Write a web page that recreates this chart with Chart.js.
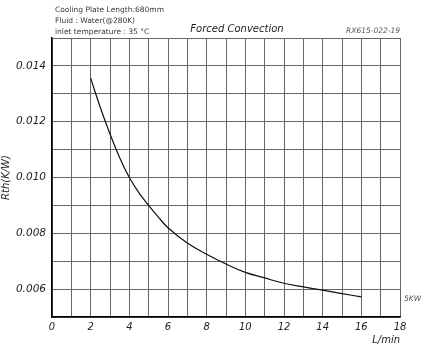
<!DOCTYPE html>
<html>
<head>
<meta charset="utf-8">
<script src="https://cdn.jsdelivr.net/npm/chart.js@4"></script>
<style>
  html, body { margin: 0; padding: 0; background: #fff; }
  #wrap { width: 437px; height: 346px; position: relative; }
</style>
</head>
<body>
<div id="wrap"><canvas id="rthChart"></canvas></div>
<script>
// flow rate (L/min) and thermal resistance (K/W)
let flow = [2, 2.5, 3, 3.5, 4, 4.5, 5, 5.5, 6, 7, 8, 9, 10, 11, 12, 13, 14, 15, 16];
let rth = [0.01356, 0.01251, 0.01156, 0.01071, 0.0100, 0.00945, 0.0090, 0.00858, 0.0082, 0.00765, 0.00725, 0.0069, 0.0066, 0.0064, 0.00621, 0.00608, 0.00596, 0.00584, 0.00572];

let notes = ['Cooling Plate Length:680mm', 'Fluid : Water(@280K)', 'inlet temperature : 35 \u00B0C'];
let chartTitle = 'Forced Convection';
let partNo = 'RX615-022-19';
let seriesName = '5KW';

// header texts and the series tag drawn straight on the canvas
const textPlugin = {
    id: 'texts',
    afterDraw(chart) {
        const c = chart.ctx;
        const area = chart.chartArea;
        c.save();
        c.fillStyle = '#3f362e';
        c.font = '7.5px "DejaVu Sans"';
        c.textBaseline = 'middle';
        notes.forEach((t, i) => c.fillText(t, 55, 10 + i * 11));

        c.fillStyle = '#222';
        c.font = 'italic 10px "DejaVu Sans"';
        c.textAlign = 'center';
        c.fillText(chartTitle, 237, 29);

        c.fillStyle = '#555';
        c.font = 'italic 7.5px "DejaVu Sans"';
        c.textAlign = 'right';
        c.fillText(partNo, area.right, 31);

        // tag next to the last point of the curve
        const y = chart.scales.y.getPixelForValue(rth[rth.length - 1]);
        c.textAlign = 'left';
        c.fillText(seriesName, area.right + 4, y + 2);
        c.restore();
    }
};

let ctx = document.getElementById('rthChart').getContext('2d');
let myChart = new Chart(ctx, {
    type: 'line',
    data: {
        datasets: [{
            label: seriesName,
            data: flow.map((f, i) => ({ x: f, y: rth[i] })),
            borderColor: '#111',
            borderWidth: 1.2,
            pointRadius: 0,
            fill: false,
            tension: 0.4
        }]
    },
    options: {
        responsive: true,
        maintainAspectRatio: false,
        animation: false,
        layout: { padding: { top: 38, right: 37, left: 0, bottom: 0 } },
        plugins: { legend: { display: false }, tooltip: { enabled: false } },
        scales: {
            x: {
                type: 'linear',
                min: 0, max: 18,
                afterFit(scale) { scale.height = 29; },
                grid: { color: '#666', lineWidth: 1, drawTicks: false },
                border: { color: '#000', width: 1.5 },
                ticks: {
                    stepSize: 1,
                    autoSkip: false,
                    maxRotation: 0,
                    padding: 4,
                    color: '#222',
                    font: { family: 'DejaVu Sans', style: 'italic', size: 10 },
                    callback: v => (v % 2 === 0 ? v : '')
                },
                title: {
                    display: true,
                    text: 'L/min',
                    align: 'end',
                    color: '#222',
                    padding: 0,
                    font: { family: 'DejaVu Sans', style: 'italic', size: 10 }
                }
            },
            y: {
                min: 0.005, max: 0.015,
                afterFit(scale) { scale.width = 52; },
                grid: { color: '#666', lineWidth: 1, drawTicks: false },
                border: { color: '#000', width: 1.5 },
                ticks: {
                    stepSize: 0.001,
                    autoSkip: false,
                    padding: 6,
                    color: '#222',
                    font: { family: 'DejaVu Sans', style: 'italic', size: 10.5 },
                    callback: v => (Math.round(v * 1000) % 2 === 0 ? v.toFixed(3) : '')
                },
                title: {
                    display: true,
                    text: 'Rth(K/W)',
                    color: '#222',
                    padding: 0,
                    font: { family: 'DejaVu Sans', style: 'italic', size: 10 }
                }
            }
        }
    },
    plugins: [textPlugin]
});
</script>
</body>
</html>
